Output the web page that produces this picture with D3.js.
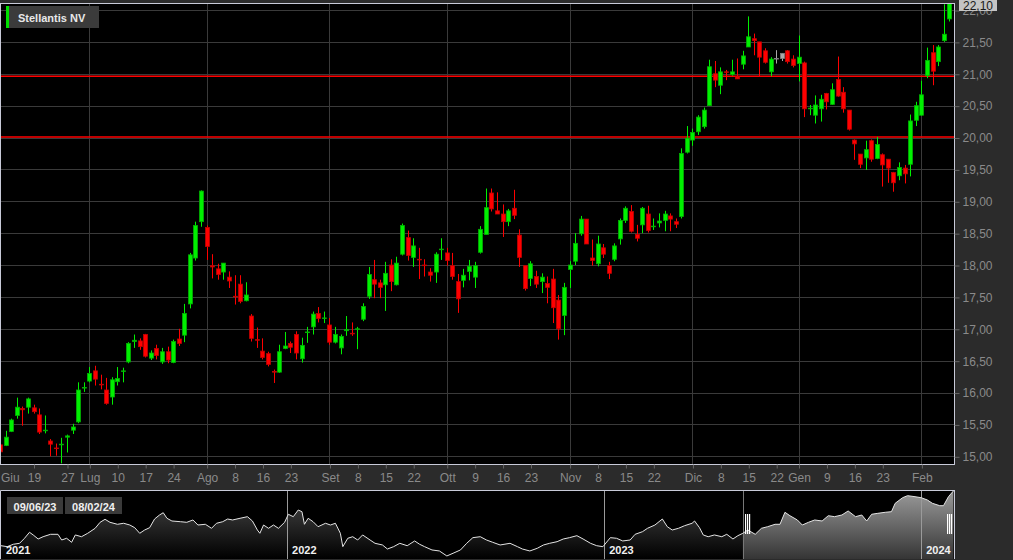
<!DOCTYPE html>
<html><head><meta charset="utf-8">
<script src="https://cdn.jsdelivr.net/npm/d3@7"></script>
<style>
html,body{margin:0;padding:0;background:#2b2b2b;}
svg{display:block;font-family:"Liberation Sans",Arial,sans-serif;}
</style></head><body>
<svg id="c" width="1013" height="560"></svg>
<script>
// ---------------- DATA ----------------
const title = "Stellantis NV";
const firstDate = "2023-06-09";
const holidays = ["2023-08-15","2023-12-25","2023-12-26","2024-01-01"];
const opens = [15.18,15.17,15.39,15.64,15.75,15.77,15.76,15.65,15.40,15.24,15.13,15.18,15.30,15.41,15.54,16.07,16.18,16.34,16.13,16.04,
15.93,16.17,16.33,16.48,16.80,16.81,16.91,16.54,16.69,16.48,16.64,16.47,16.84,16.90,17.39,18.11,18.68,18.59,17.99,17.94,
17.89,17.81,17.51,17.70,17.44,17.20,16.83,16.65,16.61,16.33,16.32,16.69,16.77,16.91,16.53,16.94,17.03,17.24,17.16,17.06,
16.79,16.70,16.97,16.93,16.99,17.15,17.51,17.77,17.72,17.69,18.00,17.69,18.17,18.43,18.12,18.09,18.00,17.89,17.89,18.24,
18.19,17.99,17.74,17.76,17.90,17.81,18.20,18.48,19.13,18.85,18.80,18.68,18.89,18.47,17.99,17.79,17.82,17.74,17.71,17.78,
17.45,17.21,17.93,18.06,18.49,18.72,18.11,18.02,18.27,17.99,18.09,18.41,18.70,18.84,18.48,18.63,18.80,18.60,18.66,18.70,
18.77,18.68,18.76,19.77,19.96,20.09,20.17,20.50,21.00,20.82,21.03,20.99,20.95,21.15,21.42,21.55,21.50,21.36,21.03,21.24,
21.24,21.36,21.23,21.16,21.17,20.45,20.35,20.45,20.69,20.52,20.91,20.71,20.43,19.96,19.74,19.68,19.95,19.67,19.73,19.66,
19.45,19.40,19.52,19.58,20.27,20.35,20.97,21.33,21.19,21.52,21.86];
const highs = [15.22,15.40,15.59,15.92,15.78,15.92,15.81,15.75,15.64,15.27,15.20,15.29,15.34,15.51,16.16,16.16,16.40,16.42,16.28,16.23,
16.24,16.40,16.39,16.79,16.91,16.85,16.92,16.66,16.75,16.70,16.72,16.83,17.00,17.39,18.19,18.68,19.17,18.62,18.17,18.02,
18.03,17.90,17.84,17.84,17.73,17.23,17.02,16.85,16.64,16.36,16.75,16.95,16.80,16.96,16.86,17.03,17.27,17.34,17.27,17.17,
17.03,16.91,17.20,17.10,17.03,17.40,17.97,18.08,17.77,18.05,18.09,18.13,18.65,18.54,18.42,18.27,18.09,17.95,18.20,18.42,
18.27,18.19,17.86,17.94,18.08,18.05,18.61,19.20,19.20,19.14,18.95,18.88,19.18,18.56,17.99,18.06,17.91,17.87,17.82,17.94,
17.53,17.72,18.06,18.50,18.77,18.72,18.40,18.46,18.33,18.05,18.34,18.73,18.92,18.94,18.63,18.91,18.93,18.73,18.81,18.85,
18.81,18.73,19.83,20.18,20.14,20.35,20.47,21.22,21.20,21.10,21.06,21.22,21.24,21.36,21.90,21.63,21.50,21.40,21.26,21.37,
21.32,21.37,21.29,21.60,21.19,20.51,20.66,20.67,20.70,20.85,21.27,20.79,20.43,19.97,19.74,19.95,19.97,20.01,19.75,19.66,
19.46,19.61,19.57,20.36,20.56,20.89,21.41,21.45,21.45,22.09,22.10];
const lows = [15.04,15.16,15.38,15.59,15.48,15.67,15.67,15.35,15.36,15.00,15.01,14.89,15.06,15.35,15.52,16.01,16.16,16.11,16.05,15.81,
15.81,16.11,16.16,16.46,16.70,16.67,16.55,16.51,16.52,16.45,16.46,16.46,16.73,16.79,17.32,18.07,18.60,18.08,17.79,17.77,
17.77,17.64,17.38,17.40,17.43,16.80,16.70,16.52,16.41,16.15,16.31,16.68,16.62,16.52,16.47,16.78,16.91,17.10,17.09,16.75,
16.77,16.60,16.89,16.89,16.68,17.12,17.47,17.48,17.48,17.28,17.59,17.68,18.15,18.07,17.97,17.78,17.82,17.74,17.72,18.08,
17.99,17.77,17.25,17.65,17.76,17.64,18.18,18.48,18.84,18.80,18.44,18.61,18.72,17.97,17.60,17.67,17.64,17.56,17.40,17.09,
16.83,16.90,17.64,18.00,18.46,18.33,17.99,17.98,18.11,17.78,18.06,18.32,18.66,18.51,18.37,18.50,18.51,18.55,18.59,18.53,
18.53,18.58,18.73,19.75,19.87,20.04,20.14,20.50,20.79,20.68,20.90,20.97,20.92,21.07,21.42,21.29,20.96,21.16,20.96,21.16,
21.20,21.16,21.10,20.88,20.32,20.35,20.22,20.25,20.44,20.51,20.64,20.39,20.11,19.65,19.52,19.49,19.62,19.66,19.23,19.29,
19.15,19.33,19.28,19.39,20.18,20.34,20.93,20.82,21.12,21.50,21.82];
const closes = [15.07,15.30,15.57,15.77,15.73,15.90,15.70,15.38,15.41,15.19,15.12,15.19,15.32,15.46,16.04,16.08,16.30,16.21,16.12,15.83,
16.20,16.22,16.34,16.77,16.82,16.72,16.57,16.62,16.58,16.64,16.51,16.80,16.77,17.24,18.16,18.62,19.16,18.29,17.97,17.85,
18.03,17.75,17.50,17.43,17.53,16.85,16.82,16.55,16.44,16.32,16.64,16.73,16.71,16.62,16.74,16.95,17.23,17.16,17.17,16.79,
16.91,16.88,16.99,16.92,17.00,17.35,17.85,17.70,17.65,17.87,17.74,18.03,18.62,18.15,18.30,18.08,17.99,17.84,18.17,18.25,
18.07,17.82,17.47,17.84,17.98,17.99,18.56,18.90,18.88,18.80,18.68,18.85,18.78,18.12,17.63,18.02,17.70,17.81,17.65,17.33,
17.00,17.65,18.00,18.34,18.72,18.33,18.07,18.33,18.17,17.87,18.30,18.70,18.89,18.53,18.42,18.89,18.54,18.61,18.69,18.80,
18.72,18.64,19.75,19.99,20.08,20.32,20.43,21.11,20.90,21.03,21.02,21.03,20.92,21.28,21.58,21.52,21.26,21.18,21.23,21.24,
21.32,21.19,21.13,21.26,20.45,20.46,20.51,20.60,20.56,20.75,20.65,20.45,20.13,19.90,19.58,19.81,19.66,19.89,19.57,19.52,
19.29,19.53,19.43,20.26,20.50,20.67,21.21,21.04,21.42,21.62,22.10];
const grayCandles = [139, 140];
const yTicks = [15,15.5,16,16.5,17,17.5,18,18.5,19,19.5,20,20.5,21,21.5,22];
const xTickDates = ["2023-06-19","2023-06-27","2023-07-03","2023-07-10","2023-07-17","2023-07-24","2023-08-01","2023-08-08","2023-08-16","2023-08-23",
"2023-09-01","2023-09-08","2023-09-15","2023-09-22","2023-10-02","2023-10-09","2023-10-16","2023-10-23","2023-11-01","2023-11-08","2023-11-15","2023-11-22",
"2023-12-01","2023-12-08","2023-12-15","2023-12-22","2024-01-02","2024-01-09","2024-01-16","2024-01-23","2024-02-01"];
const xTickLabels = ["19","27","Lug","10","17","24","Ago","8","16","23","Set","8","15","22","Ott","9","16","23","Nov","8","15","22","Dic","8","15","22","Gen","9","16","23","Feb"];
const leftMonthLabel = "Giu";
const levelLines = [20.96, 20.01];
const lastPrice = 22.10;
// navigator (trading-day index since start of history, close)
const navIdx = [0,5,10,15,19,23,26,30,34,40,46,49,53,57,60,65,70,76,80,84,88,94,99,104,108,112,116,120,124,128,131,134,138,145,150,155,159,165,170,174,179,183,187,193,199,203,207,209,212,216,220,224,229,232,236,240,243,245,248,252,256,262,266,270,274,276,280,284,288,292,298,302,308,312,317,322,328,334,338,342,348,354,360,365,371,376,381,387,392,397,403,
411,417,421,427,433,438,443,449,454,459,465,470,476,481,486,492,497,502,508,512,518,522,528,534,538,542,547,552,558,560,564,567,571,576,582,586,591,595,599,
603,609,614,619,625,629,633,637,643,647,652,657,663,668,673,679,684,690,695,699,703,708,714,719,722,728,732,738,743,748,752,758,761,765,769];
const navVals = [12.98,12.82,13.22,13.38,14.22,15.22,14.77,14.10,14.48,14.88,14.88,13.93,14.22,13.55,14.77,14.48,15.05,15.88,16.88,17.38,16.88,16.55,16.72,16.43,15.98,15.05,15.60,15.98,17.43,18.10,18.48,17.55,17.10,16.98,16.88,17.27,16.43,16.55,15.88,16.72,16.98,17.43,17.27,17.55,17.82,17.10,15.60,15.05,16.43,15.88,16.43,15.88,16.88,18.22,17.82,18.93,18.65,16.55,17.55,16.98,16.15,16.72,16.43,16.72,15.05,12.82,14.22,14.48,13.93,14.77,13.93,13.38,13.10,12.43,12.82,13.38,12.98,13.77,13.22,12.82,12.27,12.10,11.27,11.72,12.27,13.38,14.32,14.48,13.93,13.55,13.10,
13.38,12.82,12.43,12.10,12.55,13.10,13.38,13.65,14.10,14.32,14.65,14.10,13.38,12.98,12.82,14.32,14.22,13.77,13.93,14.88,15.32,15.88,16.43,17.43,16.15,15.60,15.88,16.32,16.72,17.10,15.98,14.77,14.48,14.77,14.48,14.88,14.10,14.65,15.05,
15.60,14.88,15.88,16.15,16.55,16.55,18.55,17.98,17.27,16.43,16.88,17.27,17.10,17.98,17.82,18.10,18.77,17.82,18.10,17.10,18.22,18.38,18.55,18.65,20.05,20.98,21.32,21.15,20.98,20.60,20.05,19.65,19.65,21.15,22.10];
const navYearIdx = [0,231,487,743];
const navYearLabels = ["2021","2022","2023","2024"];
const navRange = [599, 769];
const navRangeLabels = ["09/06/23","08/02/24"];

// ---------------- DRAW ----------------
const svg = d3.select("#c");
const W = 1013, H = 560;
const P = {l:1, r:954, t:3, b:464};
const NV = {l:1, r:954, t:490, b:559};

// trading calendar
function tradingDays(start, n){
  const out=[]; let d=new Date(start+"T00:00:00Z");
  while(out.length<n){
    const wd=d.getUTCDay(); const s=d.toISOString().slice(0,10);
    if(wd!==0 && wd!==6 && !holidays.includes(s)) out.push(s);
    d=new Date(d.getTime()+86400000);
  }
  return out;
}
const N = closes.length;
const dates = tradingDays(firstDate, N);
const data = d3.range(N).map(i=>({i, o:opens[i], h:highs[i], l:lows[i], c:closes[i], gray:grayCandles.includes(i)}));

const x = d3.scaleLinear().domain([0, N-1]).range([0, 949.3]);
const y = d3.scaleLinear().domain([15, 22]).range([456.3, 10]);

const defs = svg.append("defs");
defs.append("clipPath").attr("id","plotClip").append("rect")
  .attr("x",P.l).attr("y",P.t).attr("width",P.r-P.l).attr("height",P.b-P.t);

// plot bg
svg.append("rect").attr("x",P.l).attr("y",P.t).attr("width",P.r-P.l).attr("height",P.b-P.t).attr("fill","#000");

const plot = svg.append("g").attr("clip-path","url(#plotClip)");
// horizontal grid
plot.selectAll("line.hg").data(yTicks).join("line")
  .attr("x1",P.l).attr("x2",P.r)
  .attr("y1",d=>Math.round(y(d))+0.5).attr("y2",d=>Math.round(y(d))+0.5)
  .attr("stroke","#3a3a3a").attr("stroke-width",1);
// vertical month grid
const tickIdx = xTickDates.map(d=>dates.indexOf(d));
const monthTicks = tickIdx.filter((t,k)=>isNaN(+xTickLabels[k]));
plot.selectAll("line.vg").data(monthTicks).join("line")
  .attr("y1",P.t).attr("y2",P.b)
  .attr("x1",d=>Math.round(x(d))+0.5).attr("x2",d=>Math.round(x(d))+0.5)
  .attr("stroke","#3a3a3a").attr("stroke-width",1);
// level lines
plot.selectAll("line.lv").data(levelLines).join("line")
  .attr("x1",P.l).attr("x2",P.r).attr("y1",d=>y(d)).attr("y2",d=>y(d))
  .attr("stroke","#ff0000").attr("stroke-width",1.5);

// candles
const col = d=> d.gray ? ["#a8a8a8","#808080"] : (d.c>=d.o ? ["#00f000","#00b000"] : ["#ff0000","#c00000"]);
const cg = plot.append("g");
cg.selectAll("line.wick").data(data).join("line")
  .attr("x1",d=>Math.round(x(d.i))+0.5).attr("x2",d=>Math.round(x(d.i))+0.5)
  .attr("y1",d=>y(d.h)).attr("y2",d=>y(d.l))
  .attr("stroke",d=>col(d)[0]).attr("stroke-width",1);
cg.selectAll("rect.body").data(data).join("rect")
  .attr("x",d=>Math.round(x(d.i))-1.5).attr("width",4)
  .attr("y",d=>y(Math.max(d.o,d.c)))
  .attr("height",d=>Math.max(0.6, Math.abs(y(d.o)-y(d.c))))
  .attr("fill",d=>col(d)[0]).attr("stroke",d=>col(d)[1]).attr("stroke-width",0.8);

// border
svg.append("rect").attr("x",0.5).attr("y",P.t+0.5).attr("width",P.r).attr("height",P.b-P.t)
  .attr("fill","none").attr("stroke","#c8cad8").attr("stroke-width",1);

// x axis
const xa = d3.axisBottom(x).tickValues(tickIdx).tickSize(4).tickPadding(5)
  .tickFormat((d,k)=>xTickLabels[k]);
const gx = svg.append("g").attr("transform",`translate(0.5,${P.b+0.5})`).call(xa);
gx.select(".domain").remove();
gx.selectAll(".tick line").attr("stroke","#666");
gx.selectAll("text").attr("fill","#8a8a8a").style("font-size","12px").style("font-family",'"Liberation Sans",Arial,sans-serif');
svg.append("text").attr("x",1).attr("y",481.5).attr("fill","#8a8a8a").style("font-size","12px").text(leftMonthLabel);

// y axis
const ya = d3.axisRight(y).tickValues(yTicks).tickSize(5).tickPadding(3)
  .tickFormat(d=>d3.format(".2f")(d).replace(".",","));
const gy = svg.append("g").attr("transform",`translate(${P.r+0.5},0.5)`).call(ya);
gy.select(".domain").remove();
gy.selectAll(".tick line").attr("stroke","#666");
gy.selectAll("text").attr("fill","#8a8a8a").style("font-size","12px").style("font-family",'"Liberation Sans",Arial,sans-serif');

// last price tag
svg.append("rect").attr("x",959).attr("y",-1).attr("width",38).attr("height",12).attr("fill","#c4c4c4");
svg.append("text").attr("x",978).attr("y",y(lastPrice)+6).attr("text-anchor","middle")
  .attr("fill","#1a1a1a").style("font-size","12px").text(d3.format(".2f")(lastPrice).replace(".",","));

// legend
svg.append("rect").attr("x",6).attr("y",6).attr("width",93).attr("height",22).attr("fill","#3b3b3b");
svg.append("rect").attr("x",6).attr("y",6).attr("width",3).attr("height",22).attr("fill","#00e000");
svg.append("text").attr("x",18).attr("y",22).attr("fill","#e8e8e8").style("font-size","11px").style("font-weight","bold").text(title);

// ---------------- NAVIGATOR ----------------
const nx = d3.scaleLinear().domain([0, navIdx[navIdx.length-1]]).range([1, 953.4]);
const ny = d3.scaleLinear().domain([10.93, 22.1]).range([558, 491]);
const nav = navIdx.map((t,k)=>[t, navVals[k]]);

svg.append("rect").attr("x",NV.l).attr("y",NV.t).attr("width",NV.r-NV.l).attr("height",NV.b-NV.t).attr("fill","#000");
const g1 = defs.append("linearGradient").attr("id","navDark").attr("gradientUnits","userSpaceOnUse")
  .attr("x1",0).attr("x2",0).attr("y1",491).attr("y2",559);
g1.append("stop").attr("offset",0).attr("stop-color","#4a4a4a");
g1.append("stop").attr("offset",1).attr("stop-color","#000");
const g2 = defs.append("linearGradient").attr("id","navSel").attr("gradientUnits","userSpaceOnUse")
  .attr("x1",0).attr("x2",0).attr("y1",491).attr("y2",559);
g2.append("stop").attr("offset",0).attr("stop-color","#9a9a9a");
g2.append("stop").attr("offset",1).attr("stop-color","#353535");
const selX0 = nx(navRange[0]), selX1 = nx(navRange[1]);
defs.append("clipPath").attr("id","navL").append("rect").attr("x",NV.l).attr("y",NV.t).attr("width",selX0-NV.l).attr("height",NV.b-NV.t);
defs.append("clipPath").attr("id","navR").append("rect").attr("x",selX0).attr("y",NV.t).attr("width",NV.r-selX0).attr("height",NV.b-NV.t);
defs.append("clipPath").attr("id","navAll").append("rect").attr("x",NV.l).attr("y",NV.t).attr("width",NV.r-NV.l).attr("height",NV.b-NV.t);

const area = d3.area().x(d=>nx(d[0])).y0(NV.b).y1(d=>ny(d[1]));
const line = d3.line().x(d=>nx(d[0])).y(d=>ny(d[1]));
svg.append("path").datum(nav).attr("d",area).attr("fill","url(#navDark)").attr("clip-path","url(#navL)");
svg.append("path").datum(nav).attr("d",area).attr("fill","url(#navSel)").attr("clip-path","url(#navR)");
// year lines
svg.selectAll("line.yr").data(navYearIdx.slice(1)).join("line")
  .attr("x1",d=>Math.round(nx(d))+0.5).attr("x2",d=>Math.round(nx(d))+0.5)
  .attr("y1",NV.t).attr("y2",NV.b).attr("stroke","#9a9a9a").attr("stroke-width",1);
svg.append("line").attr("x1",Math.round(selX0)+0.5).attr("x2",Math.round(selX0)+0.5)
  .attr("y1",NV.t).attr("y2",NV.b).attr("stroke","#777");
svg.append("path").datum(nav).attr("d",line).attr("fill","none").attr("stroke","#e4e4e4").attr("stroke-width",1)
  .attr("clip-path","url(#navAll)");
// year labels
svg.selectAll("text.yl").data(navYearIdx).join("text")
  .attr("x",d=>nx(d)+5).attr("y",554).attr("fill","#f0f0f0")
  .style("font-size","11px").style("font-weight","bold").text((d,k)=>navYearLabels[k]);
// handles
[selX0+2, selX1-6].forEach(hx=>{
  [0,2,4].forEach(o=>{
    svg.append("rect").attr("x",Math.round(hx)+o).attr("y",514).attr("width",1.2).attr("height",20).attr("fill","#fff");
  });
});
// border
svg.append("path").attr("d",`M${NV.l-0.5},${NV.b} V${NV.t+0.5} H${NV.r}`).attr("fill","none").attr("stroke","#c8cad8");
svg.append("line").attr("x1",NV.r+0.5).attr("x2",NV.r+0.5).attr("y1",NV.t).attr("y2",NV.b).attr("stroke","#c8cad8");
// date boxes
const boxes = [[7,56],[65,57]];
boxes.forEach((b,k)=>{
  svg.append("rect").attr("x",b[0]).attr("y",497).attr("width",b[1]).attr("height",17).attr("fill","#3a3a3a");
  svg.append("text").attr("x",b[0]+b[1]/2).attr("y",510.5).attr("text-anchor","middle")
    .attr("fill","#f0f0f0").style("font-size","11px").style("font-weight","bold").text(navRangeLabels[k]);
});
</script>
</body></html>
